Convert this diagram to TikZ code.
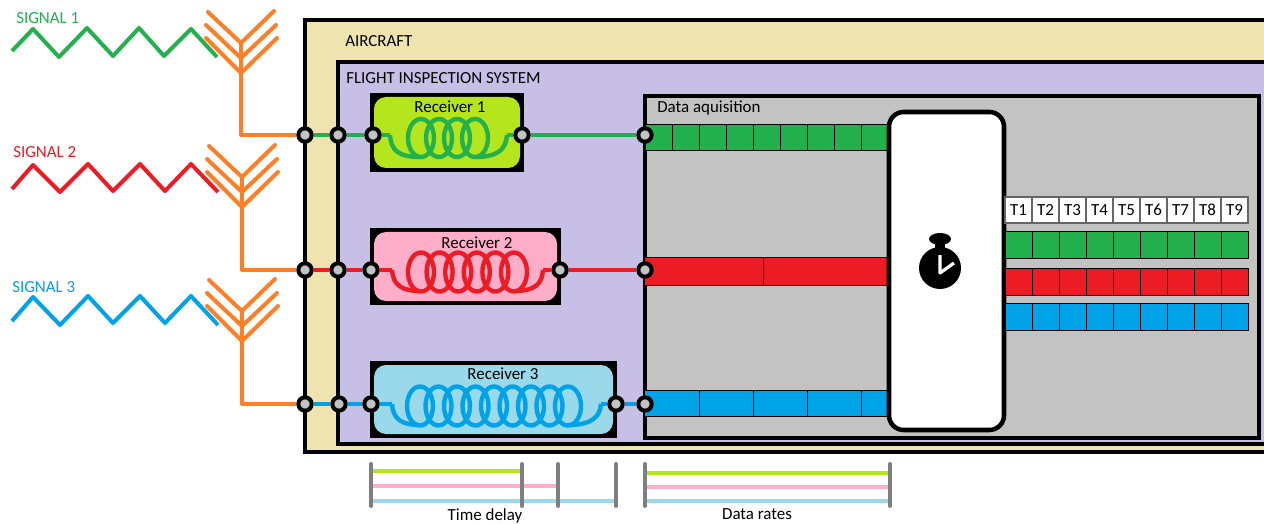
\documentclass[tikz,border=0pt]{standalone}
\usepackage{fontspec}
\setmainfont{Carlito}
\definecolor{sigGreen}{HTML}{22B14C}
\definecolor{sigRed}{HTML}{ED1C24}
\definecolor{sigBlue}{HTML}{00A2E8}
\definecolor{antOrange}{HTML}{FF7F27}
\definecolor{recvLime}{HTML}{B5E61D}
\definecolor{recvPink}{HTML}{FFAEC9}
\definecolor{recvSky}{HTML}{99D9EA}
\definecolor{planeTan}{HTML}{EFE4B0}
\definecolor{fisPurple}{HTML}{C8BFE7}
\definecolor{daqGray}{HTML}{C3C3C3}
\definecolor{tickGray}{HTML}{7F7F7F}
\tikzset{
  port/.style={circle,draw=black,fill=daqGray,line width=3pt,minimum size=10pt,inner sep=0pt},
  wire/.style={line width=3pt},
  antenna/.style={line width=3pt,draw=antOrange,line cap=round,line join=round},
  wave/.style={line width=3pt,line join=round},
  coil/.style={line width=3.3pt},
  frame/.style={draw=black,line width=3.4pt},
  cell/.style={draw=black,line width=0.6pt},
  tick/.style={draw=tickGray,line width=3pt,line cap=round},
  rate/.style={line width=3.4pt},
  label/.style={inner sep=0pt,font=\fontsize{12.7}{15}\selectfont}
}
\begin{document}
\begin{tikzpicture}[x=0.75pt,y=-0.75pt]
\clip (0,0) rectangle (1264,524);
\fill[white] (0,0) rectangle (1264,524);

% Aircraft and inspection system frames
\draw[frame,fill=planeTan] (305,20) rectangle (1300,452);
\draw[frame,fill=fisPurple] (338,62) rectangle (1300,444);
\draw[frame,fill=daqGray] (645,96) rectangle (1259,438);
\node[label,anchor=west] (aircraft) at (345,41) {AIRCRAFT};
\node[label,anchor=west] (fis) at (346,78) {FLIGHT INSPECTION SYSTEM};
\node[label,anchor=west] (daq) at (657,108) {Data aquisition};

% Receivers
\fill[black] (370,93) rectangle (524,172);
\fill[recvLime,rounded corners=9pt] (374,97) rectangle (520,168);
\fill[black] (370,228) rectangle (561,305);
\fill[recvPink,rounded corners=9pt] (374,232) rectangle (557,301);
\fill[black] (370,361) rectangle (617,438);
\fill[recvSky,rounded corners=9pt] (374,365) rectangle (613,434);
\node[label] (recv1) at (450,107) {Receiver 1};
\node[label] (recv2) at (477,243) {Receiver 2};
\node[label] (recv3) at (503,374) {Receiver 3};

% Coil in each receiver
\foreach \cx in {421,439,457,475}
  \draw[coil,sigGreen] (\cx,138) ellipse (13 and 19);
\draw[coil,sigGreen] (390,135) .. controls (391,150) and (398,157) .. (420,157);
\draw[coil,sigGreen] (475,157) .. controls (497,157) and (506,150) .. (507,135);
\foreach \cx in {421,439.6,458.2,476.8,495.4,514}
  \draw[coil,sigRed] (\cx,272) ellipse (13 and 19.5);
\draw[coil,sigRed] (392,270) .. controls (393,284) and (400,291) .. (421,291);
\draw[coil,sigRed] (514,291) .. controls (535,291) and (542,284) .. (543,270);
\foreach \cx in {420,438.5,457,475.5,494,512.5,531,549.5,568}
  \draw[coil,sigBlue] (\cx,406) ellipse (13 and 19.5);
\draw[coil,sigBlue] (392,404) .. controls (393,418) and (400,425) .. (420,425);
\draw[coil,sigBlue] (568,425) .. controls (590,425) and (600,418) .. (601,404);

% Incoming bars
\fill[sigGreen] (645,124) rectangle (888,150);
\foreach \i in {0,...,9}
  \draw[cell] (645+27*\i,124) -- (645+27*\i,150);
\draw[cell] (645,124) -- (888,124) (645,150) -- (888,150);
\fill[sigRed] (645,257) rectangle (888,285);
\draw[cell] (645,257) -- (888,257) (645,285) -- (888,285) (763,257) -- (763,285);
\fill[sigBlue] (645,390) rectangle (888,416);
\foreach \i in {1,...,4}
  \draw[cell] (645+54*\i,390) -- (645+54*\i,416);
\draw[cell] (645,390) -- (888,390) (645,416) -- (888,416);

% Sync box with stopwatch
\draw[frame,fill=white,rounded corners=11pt] (889,112) rectangle (1004,430);
\fill[black] (940,268) circle (21);
\fill[black] (935,240) rectangle (945,252);
\fill[black] (940,239) ellipse (11 and 6);
\draw[white,line width=2.4pt,line join=round] (940,255) -- (940,273) -- (954,263);

% Time slots and aligned bars
\foreach \i [count=\n from 1] in {0,...,8} {
  \node[draw=black!60,line width=0.9pt,fill=white,minimum width=20.25pt,minimum height=19.5pt,inner sep=0pt,
        font=\fontsize{12.7}{15}\selectfont] (slot\n) at (1018.5+27*\i,210) {T\n};
  \draw[cell,fill=sigGreen] (1005+27*\i,231) rectangle ++(27,27);
  \draw[cell,fill=sigRed] (1005+27*\i,268) rectangle ++(27,27);
  \draw[cell,fill=sigBlue] (1005+27*\i,303) rectangle ++(27,27);
}

% Signals
\draw[wave,sigGreen] (12,51) -- (33,29) -- (59,57) -- (87,28) -- (113,56) -- (139,28) -- (164,56) -- (191,29) -- (217,57);
\draw[wave,sigRed] (12,189) -- (33,165) -- (60,192) -- (88,164) -- (113,191) -- (140,164) -- (165,191) -- (191,164) -- (218,192);
\draw[wave,sigBlue] (12,321) -- (33,297) -- (60,325) -- (88,296) -- (113,323) -- (140,296) -- (165,323) -- (191,296) -- (218,325);
\node[label,anchor=west,text=sigGreen] (sig1) at (16,18) {SIGNAL 1};
\node[label,anchor=west,text=sigRed] (sig2) at (13,152) {SIGNAL 2};
\node[label,anchor=west,text=sigBlue] (sig3) at (12,287) {SIGNAL 3};

% Ports
\foreach \n/\x/\y in {a1/305/135,b1/338/135,c1/373/135,d1/522/135,e1/645/135,
                      a2/305/270,b2/338/270,c2/371/270,d2/560/270,e2/645/270,
                      a3/305/404,b3/339/404,c3/371/404,d3/616/404,e3/645/404}
  \node[port] (\n) at (\x,\y) {};

% Wires between ports
\foreach \r/\c in {1/sigGreen,2/sigRed,3/sigBlue} {
  \draw[wire,\c] (a\r) -- (b\r);
  \draw[wire,\c] (b\r) -- (c\r);
  \draw[wire,\c] (d\r) -- (e\r);
}
\draw[wire,sigGreen] (c1) -- (390,135);
\draw[wire,sigGreen] (507,135) -- (d1);
\draw[wire,sigRed] (c2) -- (392,270);
\draw[wire,sigRed] (543,270) -- (d2);
\draw[wire,sigBlue] (c3) -- (392,404);
\draw[wire,sigBlue] (601,404) -- (d3);

% Antennas
\foreach \r/\dx/\dy in {1/0/0,2/1/134,3/1/268} {
  \draw[antenna] (208+\dx,12+\dy) -- (241+\dx,43+\dy) -- (274+\dx,11+\dy);
  \draw[antenna] (206+\dx,25+\dy) -- (241+\dx,58+\dy) -- (276+\dx,25+\dy);
  \draw[antenna] (206+\dx,38+\dy) -- (241+\dx,73+\dy) -- (277+\dx,38+\dy);
  \coordinate (mast\r) at (241+\dx,43+\dy);
  \draw[antenna,line cap=butt] (mast\r) |- (a\r);
}

% Time delay and data rate marks
\draw[rate,recvLime] (371,471) -- (522,471);
\draw[rate,recvPink] (371,486) -- (558,486);
\draw[rate,recvSky] (371,501) -- (616,501);
\draw[rate,recvLime] (645,473) -- (890,473);
\draw[rate,recvPink] (645,487) -- (890,487);
\draw[rate,recvSky] (645,501) -- (890,501);
\foreach \x in {371,522,558,616,645,890}
  \draw[tick] (\x,464) -- (\x,506);
\node[label] (delay) at (485,516) {Time delay};
\node[label] (rates) at (757,514) {Data rates};
\end{tikzpicture}
\end{document}
